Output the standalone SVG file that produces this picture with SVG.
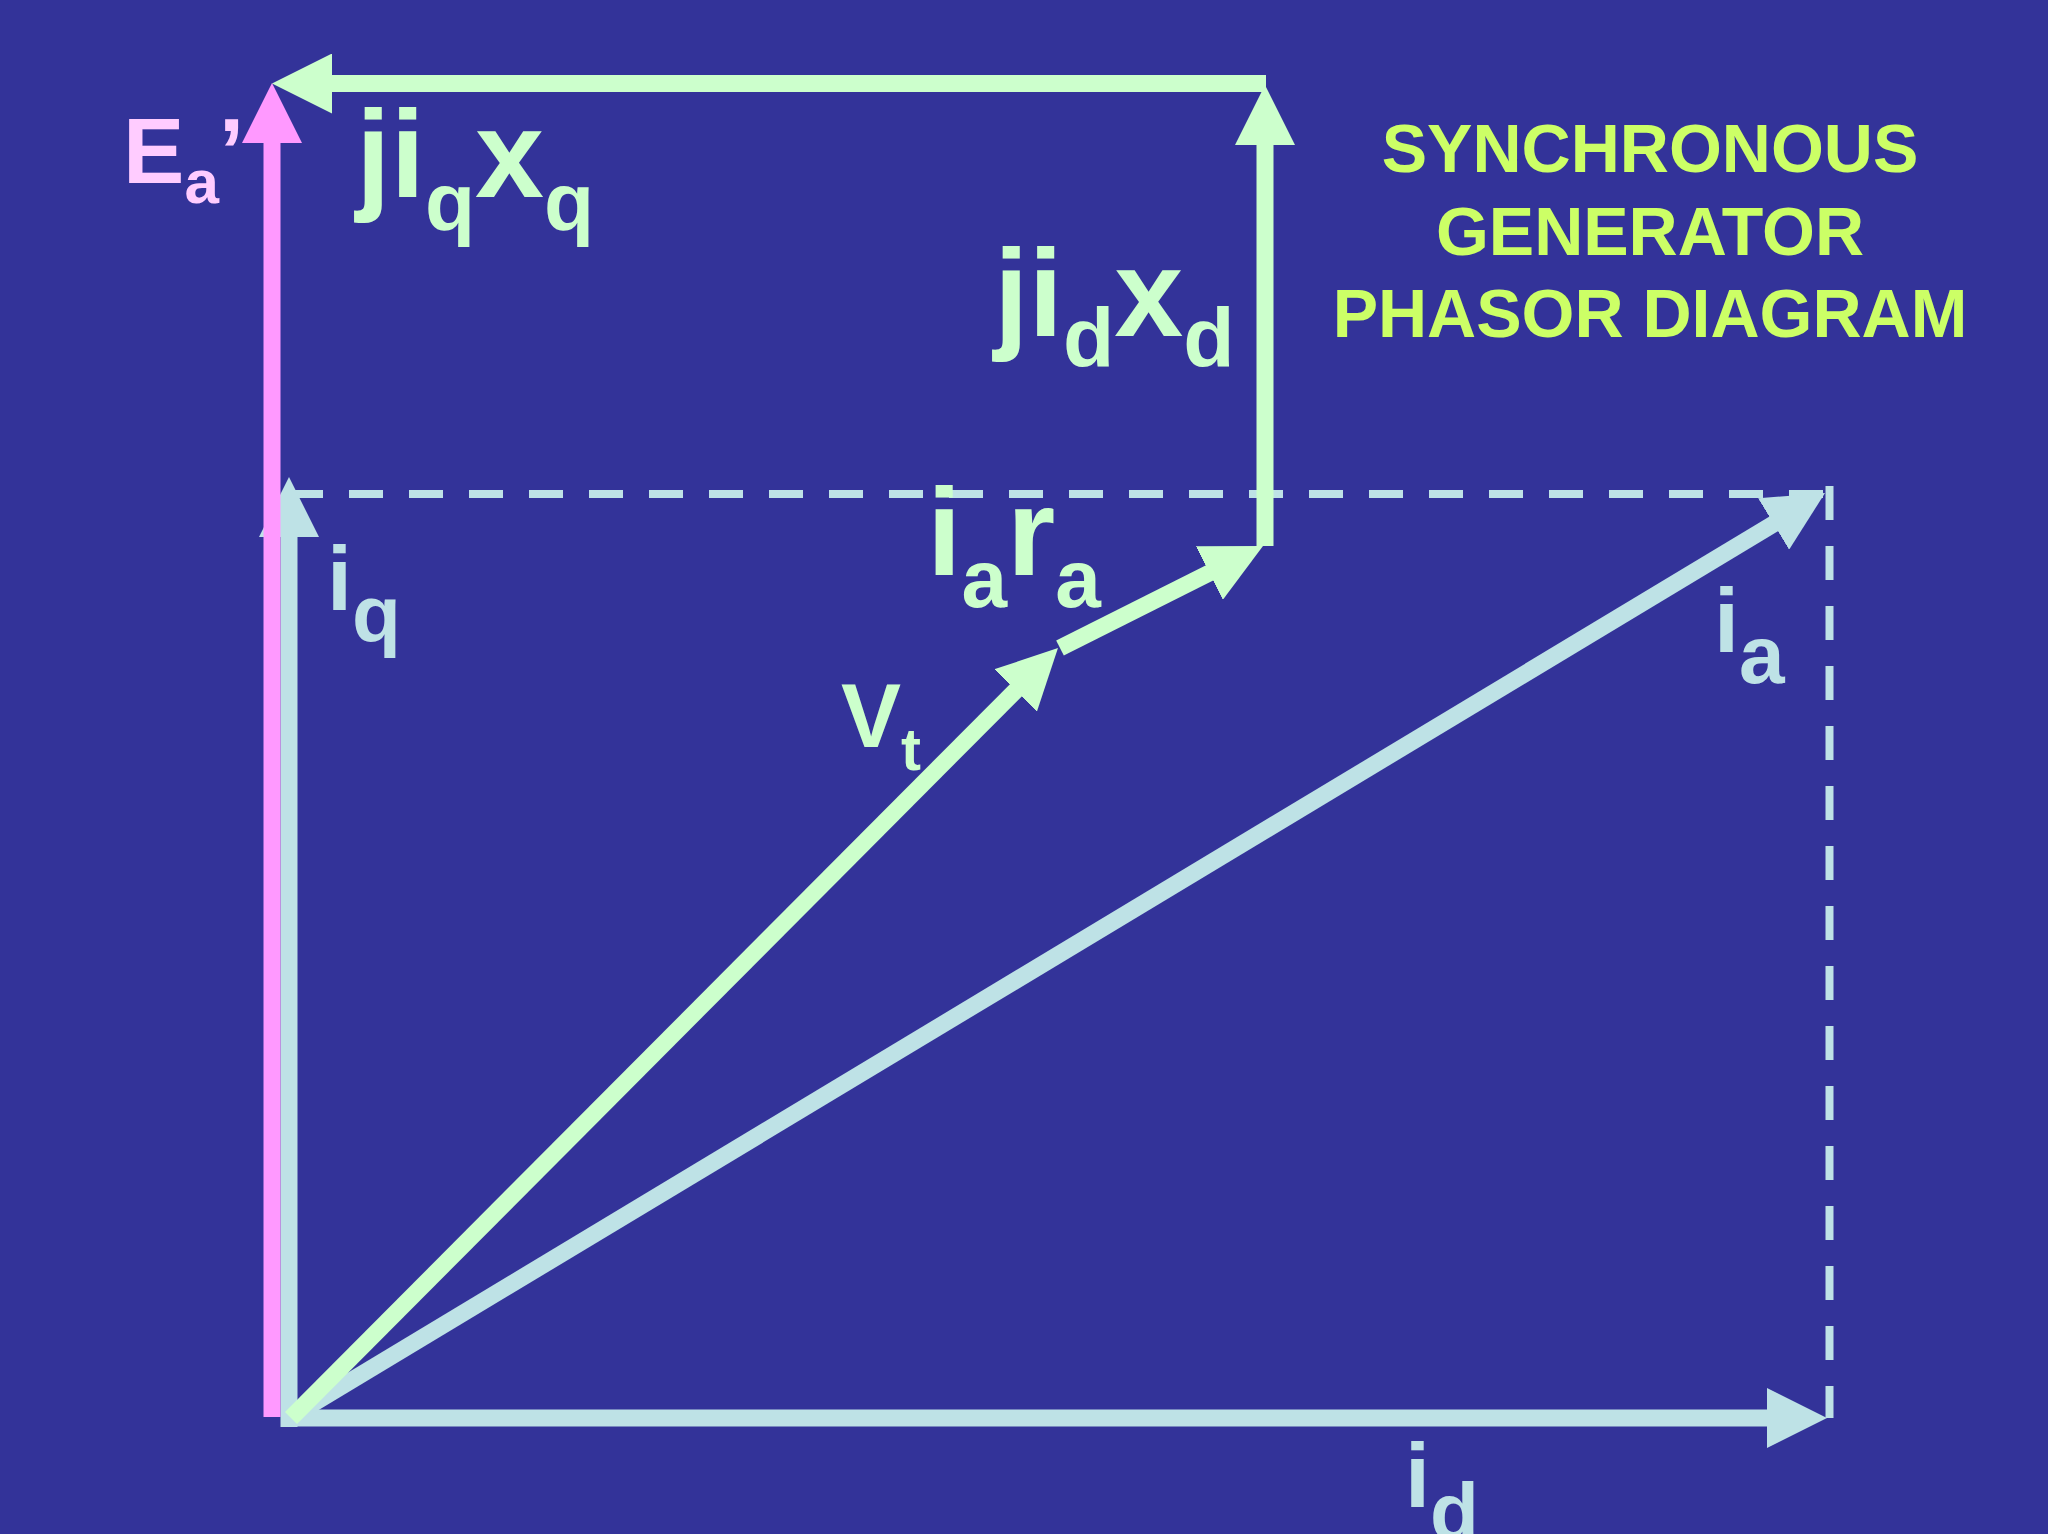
<svg xmlns="http://www.w3.org/2000/svg" width="2048" height="1534" viewBox="0 0 2048 1534">
<style>
.v{fill:none;stroke-width:17;stroke-linecap:butt}
.g{stroke:#CCFFCC}
.b{stroke:#BEE2E6}
.p{stroke:#FF99FF}
.d{fill:none;stroke:#BEE2E6;stroke-width:8;stroke-dasharray:34 26}
text{font-family:"Liberation Sans",Arial,sans-serif;font-weight:bold}
.tg{fill:#CCFFCC}
.tb{fill:#BEE2E6}
.tp{fill:#FFCCFF}
.tt{fill:#CCFF66;font-size:68px;text-anchor:middle}
</style>
<defs>
<marker id="hg" markerUnits="userSpaceOnUse" viewBox="0 0 60 60" refX="10" refY="30" markerWidth="60" markerHeight="60" orient="auto"><path d="M0,0 L60,30 L0,60 Z" fill="#CCFFCC"/></marker>
<marker id="hb" markerUnits="userSpaceOnUse" viewBox="0 0 60 60" refX="10" refY="30" markerWidth="60" markerHeight="60" orient="auto"><path d="M0,0 L60,30 L0,60 Z" fill="#BEE2E6"/></marker>
<marker id="hp" markerUnits="userSpaceOnUse" viewBox="0 0 60 60" refX="10" refY="30" markerWidth="60" markerHeight="60" orient="auto"><path d="M0,0 L60,30 L0,60 Z" fill="#FF99FF"/></marker>
</defs>
<rect width="2048" height="1534" fill="#333399"/>
<g id="connectors">
<path class="d" d="M289,494 L1834,494"/>
<path class="d" d="M1829.5,486 L1829.5,1418"/>
<path id="iq" class="v b" d="M289,1427 L289,527" marker-end="url(#hb)"/>
<path id="id" class="v b" d="M289,1418 L1777,1418" marker-end="url(#hb)"/>
<path id="ia" class="v b" d="M289,1418 L1782.2,518.8" marker-end="url(#hb)"/>
<path id="Ea" class="v p" d="M272,1417 L272,133" marker-end="url(#hp)"/>
<path id="vt" class="v g" d="M291,1418 L1022.7,683.4" marker-end="url(#hg)"/>
<path id="iara" class="v g" d="M1060,648 L1218.3,568.5" marker-end="url(#hg)"/>
<path id="jidxd" class="v g" d="M1265,546 L1265,135" marker-end="url(#hg)"/>
<path id="jiqxq" class="v g" d="M1266,83.5 L322,83.5" marker-end="url(#hg)"/>
</g>
<g id="label-Ea"><text class="tp" x="123" y="183" font-size="92">E<tspan font-size="62" dy="20">a</tspan><tspan dy="-20">’</tspan></text></g>
<g id="label-jiqxq"><text class="tg" x="356" y="197" font-size="124">ji<tspan font-size="82" dy="33">q</tspan><tspan dy="-33">x</tspan><tspan font-size="82" dy="33">q</tspan></text></g>
<g id="label-jidxd"><text class="tg" x="994" y="336" font-size="124">ji<tspan font-size="84" dy="31">d</tspan><tspan dy="-31">x</tspan><tspan font-size="84" dy="31">d</tspan></text></g>
<g id="label-iara"><text class="tg" x="927" y="575" font-size="124">i<tspan font-size="82" dy="32">a</tspan><tspan dy="-32">r</tspan><tspan font-size="82" dy="32">a</tspan></text></g>
<g id="label-vt"><text class="tg" x="841" y="747" font-size="90">V<tspan font-size="60" dy="23">t</tspan></text></g>
<g id="label-iq"><text class="tb" x="327" y="610" font-size="90">i<tspan font-size="80" dy="31">q</tspan></text></g>
<g id="label-ia"><text class="tb" x="1714" y="652" font-size="90">i<tspan font-size="82" dy="31">a</tspan></text></g>
<g id="label-id"><text class="tb" x="1405" y="1507" font-size="90">i<tspan font-size="80" dy="32">d</tspan></text></g>
<g id="title">
<text class="tt" x="1650" y="172">SYNCHRONOUS</text>
<text class="tt" x="1650" y="255">GENERATOR</text>
<text class="tt" x="1650" y="337">PHASOR DIAGRAM</text>
</g>
</svg>
